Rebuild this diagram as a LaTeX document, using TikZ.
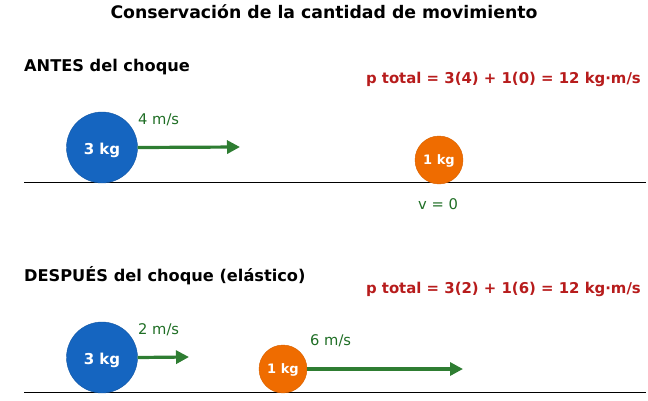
\documentclass[tikz,border=0pt]{standalone}
\usepackage{fontspec}
\setmainfont{DejaVu Sans}
\usetikzlibrary{arrows.meta}

\definecolor{kugelblau}{HTML}{1565C0}
\definecolor{kugelorange}{HTML}{EF6C00}
\definecolor{pfeilgruen}{HTML}{2E7D32}
\definecolor{textgruen}{HTML}{1F6E25}
\definecolor{summenrot}{HTML}{B71C1C}

\tikzset{
    grosse/.style={circle, fill=kugelblau, draw=kugelblau!85!black, minimum size=71pt, inner sep=0pt,
        text=white, text height=13pt, text depth=0pt, font=\fontsize{15}{17}\selectfont\bfseries},
    kleine/.style={circle, fill=kugelorange, draw=kugelorange!90!black, minimum size=48pt, inner sep=0pt,
        text=white, text height=9pt, text depth=0pt, font=\fontsize{13}{15}\selectfont\bfseries},
    geschw/.style={-{Triangle[length=13pt,width=13pt]}, line width=3.2pt, pfeilgruen},
    vtext/.style={text=textgruen, font=\fontsize{14.7}{17}\selectfont, inner sep=0pt},
    abschnitt/.style={anchor=west, inner sep=0pt, font=\fontsize{16.2}{18}\selectfont\bfseries},
    summe/.style={anchor=east, inner sep=0pt, text=summenrot, font=\fontsize{14.9}{17}\selectfont\bfseries}
}

\begin{document}
\begin{tikzpicture}[x=1pt, y=-1pt]
    \useasboundingbox (0,0) rectangle (648,400);

    % Titel
    \node[inner sep=0pt, font=\fontsize{17.3}{19}\selectfont\bfseries] (titel) at (324,12)
        {Conservación de la cantidad de movimiento};

    % vor dem Stoss
    \node[abschnitt] (antes) at (24,67) {ANTES del choque};
    \node[summe] (pantes) at (641,79) {p total = 3(4) + 1(0) = 12 kg·m/s};
    \draw[thin] (24,182) -- (646,182);

    \node[grosse] (a3) at (102,147.5) {3 kg};
    \coordinate (a3ende) at (240,147);
    \draw[geschw] (a3.east) -- (a3ende);
    \node[vtext, anchor=west] (va3) at (138,120) {4 m/s};

    \node[kleine] (a1) at (439,160) {1 kg};
    \node[vtext] (va1) at (438,204) {v = 0};

    % nach dem Stoss
    \node[abschnitt] (despues) at (24,276) {DESPUÉS del choque (elástico)};
    \node[summe] (pdespues) at (641,289) {p total = 3(2) + 1(6) = 12 kg·m/s};
    \draw[thin] (24,392) -- (646,392);

    \node[grosse] (d3) at (102,357.5) {3 kg};
    \coordinate (d3ende) at (189,357);
    \draw[geschw] (d3.east) -- (d3ende);
    \node[vtext, anchor=west] (vd3) at (138,330) {2 m/s};

    \node[kleine] (d1) at (283,369) {1 kg};
    \coordinate (d1ende) at (463,369);
    \draw[geschw] (d1.east) -- (d1ende);
    \node[vtext, anchor=west] (vd1) at (310,341) {6 m/s};
\end{tikzpicture}
\end{document}
